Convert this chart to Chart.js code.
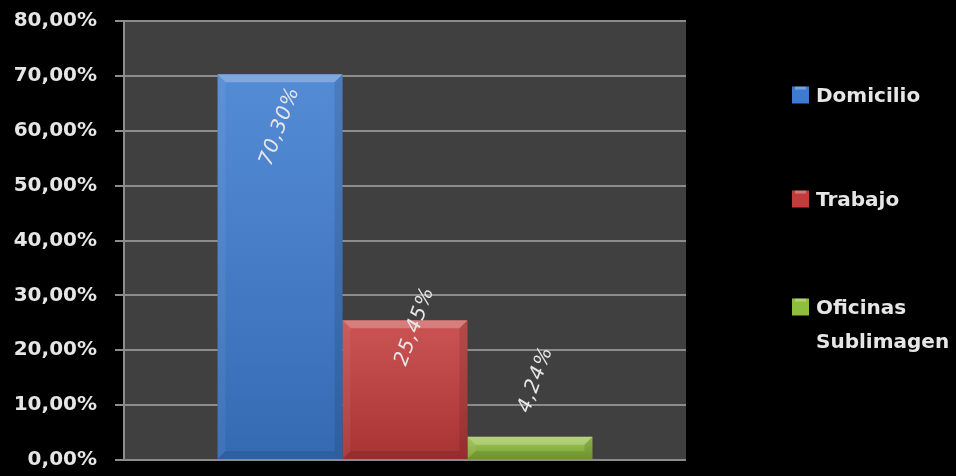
<!DOCTYPE html>
<html>
<head>
<meta charset="utf-8">
<script src="https://cdn.jsdelivr.net/npm/chart.js@4/dist/chart.umd.min.js"></script>
<style>
    html, body { margin: 0; padding: 0; background: #000; }
    #wrap { width: 956px; height: 476px; }
</style>
</head>
<body>
<div id="wrap"><canvas id="lugarChart"></canvas></div>
<script>
// datos
const categories = [''];
const seriesNames = ['Domicilio', 'Trabajo', 'Oficinas Sublimagen'];
const domicilio = [70.30];
const trabajo = [25.45];
const oficinas = [4.24];
const yTicks = [0, 10, 20, 30, 40, 50, 60, 70, 80];

const seriesColors = ['#3c7bcf', '#c33b3b', '#8fbd3c'];
// desplazamiento (px) de cada etiqueta respecto al centro superior de su barra
const labelOffsets = [[0, 52], [10, 6], [6, -57]];

const fmt = v => v.toFixed(2).replace('.', ',') + '%';
const FONT = '"DejaVu Sans", sans-serif';

const backgroundPlugin = {
    id: 'fondo',
    beforeDraw(chart) {
        const { ctx, chartArea: a } = chart;
        ctx.save();
        ctx.fillStyle = '#000';
        ctx.fillRect(0, 0, chart.width, chart.height);
        ctx.fillStyle = '#404040';
        ctx.fillRect(a.left, a.top, a.right - a.left, a.bottom - a.top);
        ctx.restore();
    }
};

// relieve tipo bisel sobre cada barra
const bevelPlugin = {
    id: 'bisel',
    afterDatasetsDraw(chart) {
        const ctx = chart.ctx;
        chart.data.datasets.forEach((ds, i) => {
            chart.getDatasetMeta(i).data.forEach(bar => {
                const x0 = bar.x - bar.width / 2, x1 = bar.x + bar.width / 2;
                const y0 = bar.y, y1 = bar.base;
                const b = Math.min(8, (y1 - y0) / 2);
                ctx.save();
                const g = ctx.createLinearGradient(0, y0, 0, y1);
                g.addColorStop(0, 'rgba(255,255,255,0.12)');
                g.addColorStop(1, 'rgba(0,0,0,0.14)');
                ctx.fillStyle = g;
                ctx.fillRect(x0, y0, x1 - x0, y1 - y0);
                ctx.beginPath();
                ctx.moveTo(x0, y0); ctx.lineTo(x1, y0); ctx.lineTo(x1 - b, y0 + b); ctx.lineTo(x0 + b, y0 + b);
                ctx.closePath();
                ctx.fillStyle = 'rgba(255,255,255,0.25)';
                ctx.fill();
                ctx.beginPath();
                ctx.moveTo(x0, y0); ctx.lineTo(x0 + b, y0 + b); ctx.lineTo(x0 + b, y1 - b); ctx.lineTo(x0, y1);
                ctx.closePath();
                ctx.fillStyle = 'rgba(255,255,255,0.06)';
                ctx.fill();
                ctx.beginPath();
                ctx.moveTo(x1, y0); ctx.lineTo(x1 - b, y0 + b); ctx.lineTo(x1 - b, y1 - b); ctx.lineTo(x1, y1);
                ctx.closePath();
                ctx.fillStyle = 'rgba(0,0,0,0.1)';
                ctx.fill();
                ctx.beginPath();
                ctx.moveTo(x0, y1); ctx.lineTo(x0 + b, y1 - b); ctx.lineTo(x1 - b, y1 - b); ctx.lineTo(x1, y1);
                ctx.closePath();
                ctx.fillStyle = 'rgba(0,0,0,0.1)';
                ctx.fill();
                ctx.restore();
            });
        });
    }
};

// etiquetas de valor giradas
const valueLabelPlugin = {
    id: 'etiquetas',
    afterDatasetsDraw(chart) {
        const ctx = chart.ctx;
        chart.data.datasets.forEach((ds, i) => {
            chart.getDatasetMeta(i).data.forEach((bar, j) => {
                const [dx, dy] = labelOffsets[i];
                ctx.save();
                ctx.translate(bar.x + dx, bar.y + dy);
                ctx.rotate(-70 * Math.PI / 180);
                ctx.font = 'italic 20px ' + FONT;
                ctx.letterSpacing = '1px';
                ctx.fillStyle = '#e6e6e6';
                ctx.textAlign = 'center';
                ctx.textBaseline = 'middle';
                ctx.fillText(fmt(ds.data[j]), 0, 0);
                ctx.restore();
            });
        });
    }
};

const legendPlugin = {
    id: 'leyenda',
    afterDraw(chart) {
        const ctx = chart.ctx;
        const boxX = 792, textX = 816, box = 17, lineH = 34;
        const itemY = [97, 201, 309];
        ctx.save();
        ctx.font = 'bold 20px ' + FONT;
        ctx.textBaseline = 'middle';
        chart.data.datasets.forEach((ds, i) => {
            const y = itemY[i];
            ctx.fillStyle = ds.backgroundColor;
            ctx.fillRect(boxX, y - box / 2 - 2, box, box);
            ctx.fillStyle = 'rgba(255,255,255,0.3)';
            ctx.fillRect(boxX + 3, y - box / 2 - 2, box - 6, 3);
            // salto de línea si no cabe
            const words = ds.label.split(' ');
            const lines = [];
            let cur = '';
            words.forEach(w => {
                const t = cur ? cur + ' ' + w : w;
                if (cur && ctx.measureText(t).width > chart.width - textX - 4) { lines.push(cur); cur = w; }
                else cur = t;
            });
            lines.push(cur);
            ctx.fillStyle = '#e6e6e6';
            lines.forEach((l, k) => ctx.fillText(l, textX, y + k * lineH));
        });
        ctx.restore();
    }
};

const series = [domicilio, trabajo, oficinas];

new Chart(document.getElementById('lugarChart'), {
    type: 'bar',
    data: {
        labels: categories,
        datasets: series.map((d, i) => ({
            label: seriesNames[i],
            data: d,
            backgroundColor: seriesColors[i],
            borderWidth: 0,
            categoryPercentage: 0.667,
            barPercentage: 1.0
        }))
    },
    options: {
        responsive: true,
        maintainAspectRatio: false,
        animation: false,
        devicePixelRatio: 1,
        layout: { padding: { top: 21, bottom: 16, right: 270, left: 0 } },
        plugins: {
            legend: { display: false },
            tooltip: { enabled: false }
        },
        scales: {
            x: { display: false },
            y: {
                min: 0,
                max: 80,
                afterBuildTicks: scale => { scale.ticks = yTicks.map(v => ({ value: v })); },
                afterFit: scale => {
                    scale.width = 124;
                    scale.paddingTop = 0;
                    scale.paddingBottom = 0;
                },
                ticks: {
                    color: '#e6e6e6',
                    padding: 18,
                    font: { family: FONT, size: 20, weight: 'bold' },
                    callback: v => fmt(v)
                },
                grid: { color: '#8c8c8c', lineWidth: 2, tickLength: 9 },
                border: { color: '#8c8c8c', width: 2 }
            }
        }
    },
    plugins: [backgroundPlugin, bevelPlugin, valueLabelPlugin, legendPlugin]
});
</script>
</body>
</html>
